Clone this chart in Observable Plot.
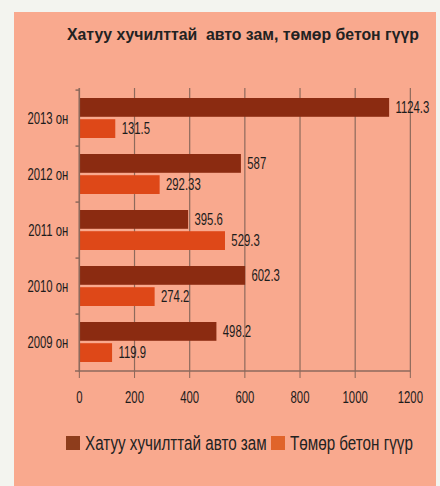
<!DOCTYPE html>
<html>
<head>
<meta charset="utf-8">
<script src="https://cdn.jsdelivr.net/npm/d3@7"></script>
<script src="https://cdn.jsdelivr.net/npm/@observablehq/plot@0.6"></script>
<style>
  html, body { margin: 0; padding: 0; background: #f3f4ef; width: 440px; height: 486px; overflow: hidden; }
  #panel { position: absolute; left: 14px; top: 12px; width: 422px; height: 480px; background: #f9a98e; overflow: hidden; }
  #title { position: absolute; left: 53px; top: 13px; font-family: "Liberation Sans", Arial, sans-serif; font-weight: bold; font-size: 17px; color: #222; white-space: pre; transform: scaleX(0.93); transform-origin: 0 0; }
  #chart { position: absolute; left: 0; top: 58px; width: 417px; height: 342px; overflow: hidden; }
  #chart svg { transform: scaleX(0.71); transform-origin: 0 0; max-width: none !important; }
  #chart svg text { fill: #1c1c1c; }
  #chart svg g[aria-label="x-axis tick"] { stroke-width: 1.5; }
  #legend { position: absolute; left: 0; top: 424px; width: 422px; height: 20px; font-family: "Liberation Sans", Arial, sans-serif; font-size: 20px; color: #222; white-space: nowrap; }
  .sw { position: absolute; top: 0; width: 14px; height: 14px; }
  .lt { position: absolute; top: -4px; line-height: 23px; transform: scaleX(0.76); transform-origin: 0 0; }
</style>
</head>
<body>
<div id="panel">
  <div id="title"></div>
  <div id="chart"></div>
  <div id="legend"></div>
</div>
<script>
const chartTitle = "Хатуу хучилттай  авто зам, төмөр бетон гүүр";
const years = ["2013 он", "2012 он", "2011 он", "2010 он", "2009 он"];
const roads = [1124.3, 587, 395.6, 602.3, 498.2];
const bridges = [131.5, 292.33, 529.3, 274.2, 119.9];
const seriesNames = ["Хатуу хучилттай авто зам", "Төмөр бетон гүүр"];
const xTicks = [0, 200, 400, 600, 800, 1000, 1200];

const barColors = ["#8b2b11", "#de4818"];
const legendColors = ["#8e3d1c", "#e0642a"];
const gridColor = "#8d6a5c";

const roadRows = years.map((y, i) => ({year: y, value: roads[i]}));
const bridgeRows = years.map((y, i) => ({year: y, value: bridges[i]}));

document.getElementById("title").textContent = chartTitle;

// horizontal squeeze applied to the svg (narrow lettering of the original)
const s = 0.71;
const H = 342, mT = 18, mB = 40;
const mL = 65 / s, plotW = 331 / s, mR = 25 / s;
const W = mL + plotW + mR;
const plotH = H - mT - mB;
const pi = 0.283, po = pi / 2;
const step = plotH / (years.length - pi + 2 * po);
const bw = step * (1 - pi);
const half = bw / 2;
const inset = half + 0.85;
const labOff = (half - 0.85) / 2 + 0.85;

const chart = Plot.plot({
  width: W,
  height: H,
  marginTop: mT,
  marginBottom: mB,
  marginLeft: mL,
  marginRight: mR,
  style: {
    background: "transparent",
    color: gridColor,
    fontFamily: '"Liberation Sans", Arial, sans-serif',
    fontSize: "16px",
    overflow: "visible",
    maxWidth: "none",
    width: W + "px",
    height: H + "px"
  },
  x: {domain: [0, 1200], ticks: xTicks, tickSize: 6, tickPadding: 13, tickFormat: d => String(d), label: null},
  y: {domain: years, paddingInner: pi, paddingOuter: po, tickSize: 0, tickPadding: 11 / s, label: null},
  marks: [
    Plot.ruleX(xTicks, {stroke: gridColor, strokeWidth: 1.2 / s}),
    Plot.barX(roadRows, {y: "year", x: "value", fill: barColors[0], insetBottom: inset}),
    Plot.barX(bridgeRows, {y: "year", x: "value", fill: barColors[1], insetTop: inset}),
    Plot.ruleX([0], {stroke: gridColor, strokeWidth: 1.5 / s}),
    Plot.ruleY(years, {y: d => d, x1: 0, x2: 0, insetLeft: -3.5 / s, dy: -step / 2, stroke: gridColor, strokeWidth: 1.5}),
    Plot.ruleY([years[years.length - 1]], {y: d => d, x1: 0, x2: 1200, insetLeft: -4 / s, dy: step / 2, stroke: gridColor, strokeWidth: 1.5}),
    Plot.text(roadRows, {y: "year", x: "value", text: d => String(d.value), dy: -labOff, dx: 6 / s, textAnchor: "start", fill: "#1c1c1c"}),
    Plot.text(bridgeRows, {y: "year", x: "value", text: d => String(d.value), dy: labOff, dx: 6 / s, textAnchor: "start", fill: "#1c1c1c"})
  ]
});
document.getElementById("chart").appendChild(chart);

// legend: swatch + label pairs
const legend = document.getElementById("legend");
const legendX = [52, 257];
seriesNames.forEach((name, i) => {
  const sw = document.createElement("span");
  sw.className = "sw";
  sw.style.left = legendX[i] + "px";
  sw.style.background = legendColors[i];
  const t = document.createElement("span");
  t.className = "lt";
  t.style.left = (legendX[i] + 19) + "px";
  t.textContent = name;
  legend.appendChild(sw);
  legend.appendChild(t);
});
</script>
</body>
</html>
